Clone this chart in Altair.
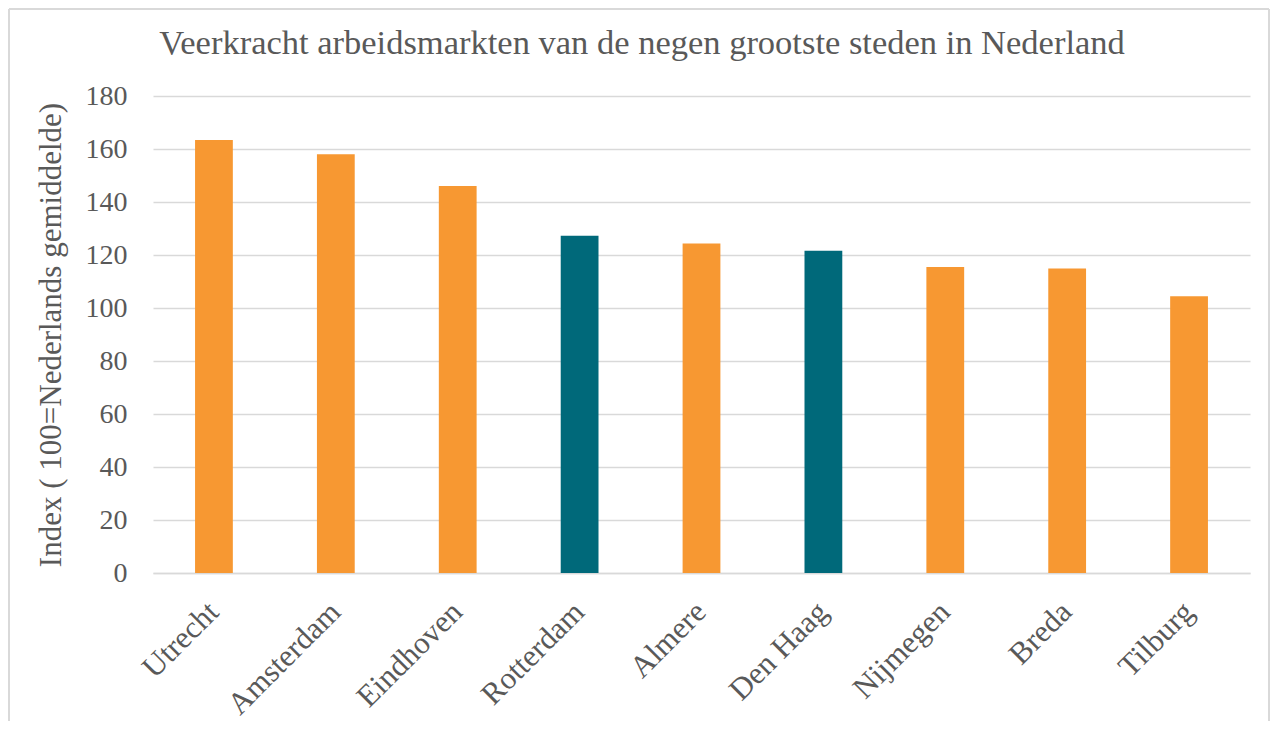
import altair as alt
import pandas as pd

cities = ["Utrecht", "Amsterdam", "Eindhoven", "Rotterdam", "Almere",
          "Den Haag", "Nijmegen", "Breda", "Tilburg"]
values = [163.4, 158.0, 146.0, 127.3, 124.3, 121.6, 115.5, 114.9, 104.4]
groups = ["o", "o", "o", "t", "o", "t", "o", "o", "o"]
title_text = "Veerkracht arbeidsmarkten van de negen grootste steden in Nederland"

df = pd.DataFrame({"stad": cities, "index": values, "groep": groups})
one = pd.DataFrame({"t": [title_text]})

FONT = "Liberation Serif"
GREY = "#595959"
W, H = 1097, 477

bars = alt.Chart(df).mark_bar().encode(
    x=alt.X("stad:N", sort=cities, title=None,
            scale=alt.Scale(paddingInner=0.69, paddingOuter=0.345),
            axis=alt.Axis(labelAngle=-45, labelAlign="right", labelBaseline="middle",
                          labelFontSize=31, labelFont=FONT, labelColor=GREY,
                          ticks=False, domain=True, domainColor="#d9d9d9",
                          domainWidth=1.5, labelPadding=34, labelOffset=0, grid=False)),
    y=alt.Y("index:Q", title="Index ( 100=Nederlands gemiddelde)",
            scale=alt.Scale(domain=[0, 180]),
            axis=alt.Axis(values=list(range(0, 181, 20)), ticks=False, domain=False,
                          gridColor="#d9d9d9", gridWidth=1.5,
                          labelFontSize=28, labelFont=FONT, labelColor=GREY,
                          labelPadding=26, titleFontSize=31, titleFont=FONT,
                          titleColor=GREY, titleFontWeight="normal", titlePadding=18)),
    color=alt.Color("groep:N", legend=None,
                    scale=alt.Scale(domain=["o", "t"], range=["#F79832", "#00697A"])),
)

title = alt.Chart(one).mark_text(font=FONT, fontSize=34.5, color=GREY, align="center",
                                 baseline="alphabetic").encode(
    text="t:N", x=alt.value(489), y=alt.value(-42))

border_style = dict(color="#d9d9d9", strokeWidth=2)
top = alt.Chart(one).mark_rule(**border_style).encode(
    x=alt.value(-144), x2=alt.value(1116), y=alt.value(-87))
left = alt.Chart(one).mark_rule(**border_style).encode(
    x=alt.value(-144), y=alt.value(-87), y2=alt.value(640))
right = alt.Chart(one).mark_rule(**border_style).encode(
    x=alt.value(1116), y=alt.value(-87), y2=alt.value(640))

chart = alt.layer(bars, title, top, left, right).properties(
    width=W, height=H,
    autosize=alt.AutoSizeParams(type="none"),
    padding={"left": 145, "top": 88, "right": 21, "bottom": 148},
    background="white",
).configure_view(stroke=None)

chart.save("out.html", embed_options={"renderer": "svg", "actions": False})
